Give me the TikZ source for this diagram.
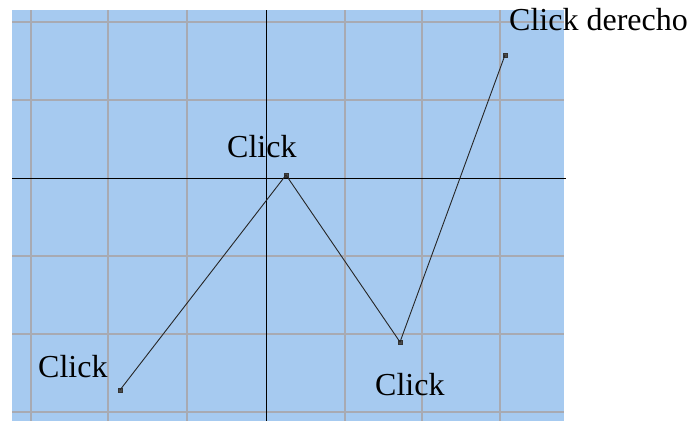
\documentclass[tikz,border=0pt]{standalone}
\usepackage{fontspec}
\setmainfont{Liberation Serif}
\definecolor{skyb}{RGB}{166,202,240}
\definecolor{gridg}{RGB}{168,170,178}
\begin{document}
\begin{tikzpicture}[x=1pt,y=-1pt,
  pt/.style={draw=black!80,fill=black!70,minimum size=3.5pt,inner sep=0pt,rectangle},
  lbl/.style={inner sep=0pt,anchor=base west,font=\fontsize{32}{38}\selectfont},
  gridline/.style={draw=gridg,line width=1.6pt},
  axisline/.style={draw=black,line width=1pt},
  conn/.style={draw=black!85,line width=0.9pt}]
\useasboundingbox (0,0) rectangle (692,421);
\fill[skyb] (12,10) rectangle (564,421);
\foreach \x in {31,108,187,345,422,500} \draw[gridline] (\x,10) -- (\x,421);
\foreach \y in {22,100,256,334,412} \draw[gridline] (12,\y) -- (564,\y);
\draw[axisline] (266,10) -- (266,421);
\draw[axisline] (12,178) -- (566,178);
\node[pt] (p1) at (120,390) {};
\node[pt] (p2) at (286,175) {};
\node[pt] (p3) at (400,342) {};
\node[pt] (p4) at (505,55) {};
\draw[conn] (p1.center) -- (p2.center) -- (p3.center) -- (p4.center);
\node[lbl] (l1) at (38,377) {Click};
\node[lbl] (l2) at (227,157) {Click};
\node[lbl] (l3) at (375,395) {Click};
\node[lbl] (l4) at (509,30) {Click derecho};
\end{tikzpicture}
\end{document}
